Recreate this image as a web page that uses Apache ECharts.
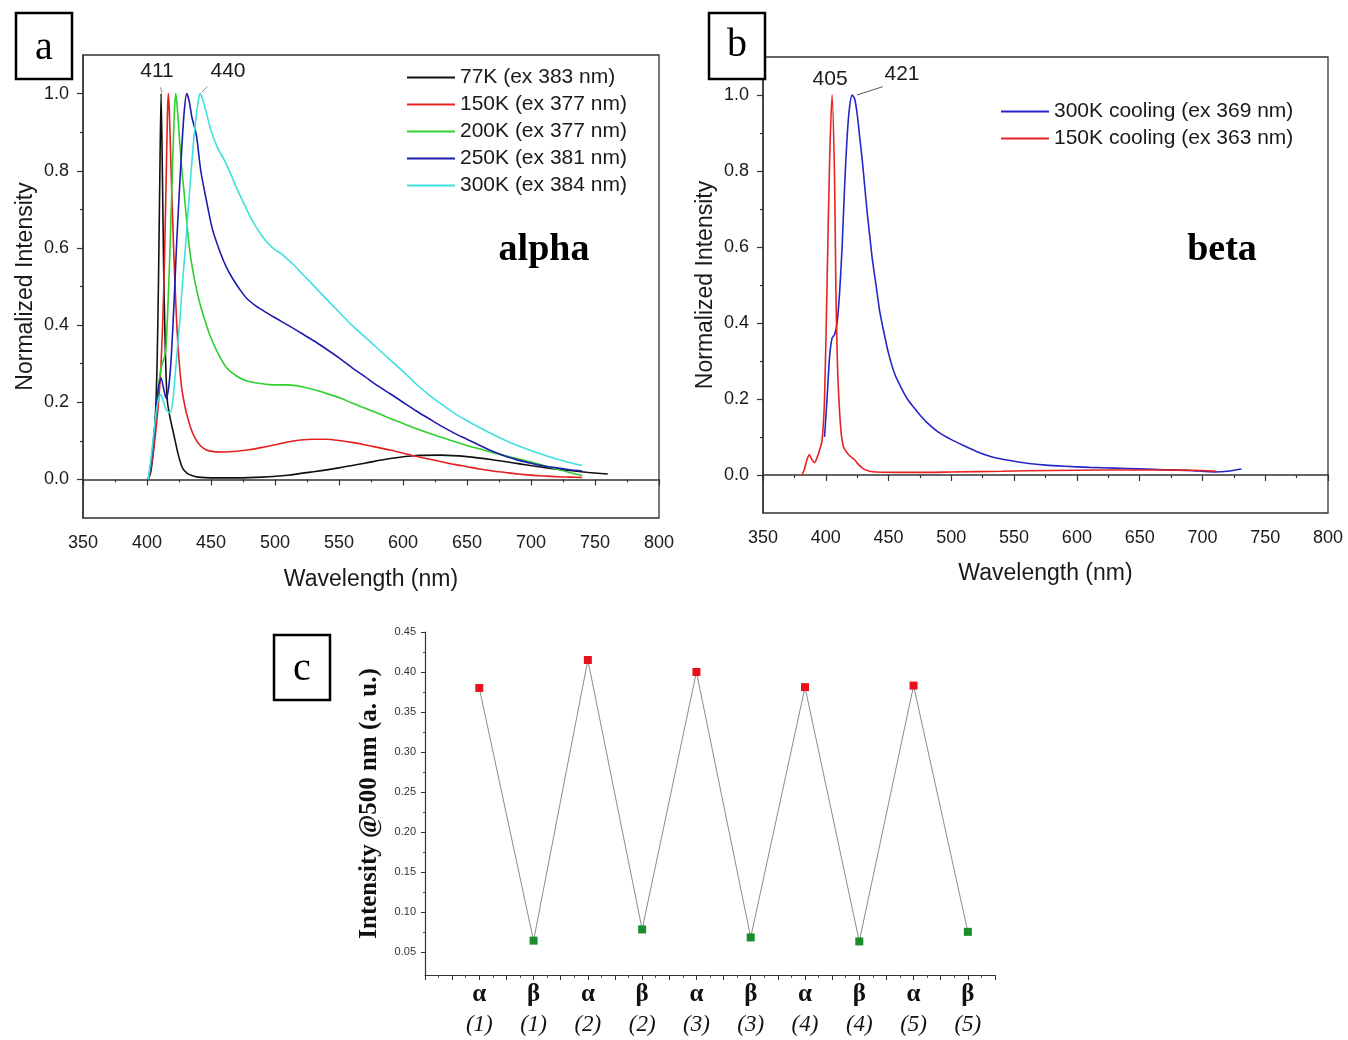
<!DOCTYPE html>
<html><head><meta charset="utf-8">
<script src="https://cdn.jsdelivr.net/npm/echarts@6.0.0/dist/echarts.min.js"></script>
<style>html,body{margin:0;padding:0;background:#fff}#c{width:1348px;height:1040px}</style>
</head><body><div id="c"></div>
<script>
// ---------- Panel a (alpha) ----------
const a77 = [[401,0],[403,0.02],[405,0.08],[407,0.2],[408,0.32],[409,0.52],[410,0.78],[411,1.0],[412,0.8],[413,0.55],[414,0.38],[415,0.26],[416,0.2],[418,0.16],[420,0.13],[422,0.1],[424,0.07],[426,0.045],[428,0.028],[431,0.017],[435,0.01],[440,0.006],[450,0.004],[470,0.004],[490,0.006],[510,0.011],[530,0.02],[550,0.03],[570,0.042],[590,0.054],[610,0.062],[630,0.063],[650,0.059],[670,0.051],[690,0.041],[710,0.031],[730,0.023],[745,0.018],[760,0.014]];
const a150 = [[401,0],[403,0.03],[405,0.07],[407,0.13],[409,0.2],[411,0.3],[413,0.48],[414.5,0.7],[416,0.95],[416.7,1.0],[417.5,0.95],[419,0.78],[421,0.58],[423,0.42],[425,0.31],[427,0.24],[429,0.2],[431,0.17],[434,0.135],[437,0.11],[441,0.09],[446,0.077],[452,0.072],[460,0.071],[470,0.073],[480,0.077],[490,0.083],[500,0.09],[510,0.097],[520,0.102],[530,0.104],[540,0.104],[550,0.101],[560,0.096],[570,0.09],[580,0.083],[590,0.076],[600,0.068],[610,0.06],[620,0.053],[630,0.046],[640,0.039],[650,0.033],[660,0.027],[670,0.022],[680,0.018],[690,0.014],[700,0.011],[710,0.009],[720,0.007],[730,0.006],[740,0.005]];
const a200 = [[401,0],[403,0.04],[405,0.1],[407,0.17],[409,0.24],[411,0.29],[413,0.31],[414.5,0.33],[416,0.42],[418,0.6],[420,0.82],[421.5,0.96],[422.5,1.0],[423.5,0.97],[425,0.9],[427,0.81],[428.5,0.76],[431,0.67],[433.5,0.59],[437,0.52],[441,0.46],[445,0.415],[449,0.375],[455,0.33],[462,0.29],[470,0.268],[478,0.255],[490,0.248],[500,0.245],[510,0.245],[520,0.241],[530,0.233],[540,0.223],[550,0.212],[560,0.198],[570,0.185],[580,0.172],[590,0.158],[600,0.145],[610,0.132],[620,0.12],[630,0.109],[640,0.098],[650,0.088],[660,0.079],[670,0.07],[680,0.061],[690,0.053],[700,0.045],[710,0.036],[720,0.027],[730,0.018],[740,0.01]];
const a250 = [[401,0],[403,0.04],[405,0.1],[407,0.17],[409,0.24],[411,0.263],[413,0.235],[415,0.21],[417,0.24],[419,0.32],[421,0.45],[423,0.6],[425,0.73],[427,0.85],[429,0.95],[431,1.0],[433,0.98],[435,0.94],[438.7,0.89],[442,0.8],[446.6,0.72],[451,0.65],[457,0.59],[462,0.55],[467,0.52],[473,0.49],[478,0.469],[485,0.45],[492,0.435],[500,0.419],[510,0.4],[520,0.38],[530,0.36],[540,0.338],[550,0.315],[560,0.29],[570,0.267],[580,0.243],[590,0.222],[600,0.2],[610,0.178],[620,0.158],[630,0.138],[640,0.12],[650,0.104],[660,0.088],[670,0.073],[680,0.06],[690,0.05],[700,0.042],[710,0.035],[720,0.03],[730,0.025],[740,0.022]];
const a300 = [[401,0],[403,0.05],[405,0.11],[407,0.17],[409,0.21],[410.7,0.22],[413,0.2],[415,0.18],[418,0.172],[420,0.2],[422,0.27],[424,0.35],[425.8,0.418],[428,0.52],[430,0.6],[432,0.69],[433.6,0.762],[436,0.86],[438,0.93],[440,0.98],[441.4,1.0],[443,0.99],[446,0.955],[450,0.905],[455,0.86],[460,0.83],[465,0.795],[470,0.755],[475,0.72],[480,0.685],[485,0.655],[490,0.63],[495,0.61],[500,0.595],[505,0.585],[510,0.57],[515,0.555],[520,0.537],[530,0.503],[540,0.468],[550,0.434],[560,0.4],[570,0.37],[580,0.34],[590,0.31],[600,0.28],[610,0.248],[620,0.22],[630,0.195],[640,0.172],[650,0.152],[660,0.134],[670,0.117],[680,0.101],[690,0.087],[700,0.075],[710,0.063],[720,0.053],[730,0.044],[740,0.036]];
const aNames = ['77K (ex 383 nm)','150K (ex 377 nm)','200K (ex 377 nm)','250K (ex 381 nm)','300K (ex 384 nm)'];
const aColors = ['#111111','#e3201f','#2fcf2f','#1c1cae','#3fe0e0'];

// ---------- Panel b (beta) ----------
const b300 = [[399,0.1],[401,0.2],[403,0.31],[405,0.36],[407,0.37],[409,0.4],[411,0.48],[413,0.6],[415,0.76],[417,0.89],[419,0.97],[421,1.0],[423,0.99],[425,0.95],[427,0.89],[429,0.83],[431,0.76],[433,0.69],[435,0.63],[437,0.57],[440,0.5],[443,0.43],[446,0.38],[450,0.32],[455,0.265],[460,0.23],[465,0.2],[470,0.178],[475,0.158],[480,0.14],[490,0.112],[500,0.093],[510,0.077],[520,0.062],[530,0.05],[540,0.042],[550,0.036],[560,0.031],[575,0.026],[590,0.023],[610,0.02],[630,0.018],[650,0.016],[670,0.014],[690,0.012],[710,0.008],[720,0.01],[731,0.016]];
const b150 = [[381,0],[383,0.015],[385,0.04],[387,0.053],[389,0.04],[391,0.033],[393,0.045],[395,0.065],[397,0.09],[399,0.2],[401,0.5],[403,0.82],[405,1.0],[407,0.78],[408,0.5],[409,0.33],[410,0.23],[412,0.12],[414,0.075],[417,0.058],[420,0.048],[423,0.04],[426,0.028],[430,0.016],[435,0.01],[440,0.008],[460,0.007],[480,0.007],[500,0.008],[540,0.01],[580,0.012],[620,0.013],[660,0.013],[700,0.012],[711,0.01]];
const bNames = ['300K cooling (ex 369 nm)','150K cooling (ex 363 nm)'];
const bColors = ['#2626c8','#e82222'];

// ---------- Panel c ----------
const cPhase = ['α','β','α','β','α','β','α','β','α','β'];
const cCycle = ['(1)','(1)','(2)','(2)','(3)','(3)','(4)','(4)','(5)','(5)'];
const cValues = [0.380,0.064,0.415,0.078,0.400,0.068,0.381,0.063,0.383,0.075];
const cYTicks = [0.05,0.10,0.15,0.20,0.25,0.30,0.35,0.40,0.45];
const cYMinor = [0.075,0.125,0.175,0.225,0.275,0.325,0.375,0.425];

// ---------- shared tick labels ----------
const specYTicks = [0,0.2,0.4,0.6,0.8,1.0];
const specYMinor = [0.1,0.3,0.5,0.7,0.9];

const SANS = 'Liberation Sans, Arial, sans-serif';
const SERIF = 'Liberation Serif, Times New Roman, serif';
const TXT = '#1a1a1a';

function specX(grid, nameGap){
  return {type:'value', gridIndex:grid, min:350, max:800, interval:50,
    axisLine:{lineStyle:{color:'#333',width:1.5}},
    axisTick:{length:6,lineStyle:{color:'#333',width:1.2}},
    minorTick:{show:true,splitNumber:2,length:3,lineStyle:{color:'#333',width:1.2}},
    splitLine:{show:false}, minorSplitLine:{show:false},
    axisLabel:{fontFamily:SANS,fontSize:18,color:TXT,margin:16},
    name:'Wavelength (nm)', nameLocation:'middle', nameGap:nameGap,
    nameTextStyle:{fontFamily:SANS,fontSize:23,color:TXT}};
}
function specY(grid){
  return [{type:'value', gridIndex:grid, min:-0.1, max:1.1,
    axisLine:{show:true,lineStyle:{color:'#333',width:1.5}},
    axisTick:{show:true,length:6,customValues:specYTicks,lineStyle:{color:'#333',width:1.2}},
    axisLabel:{customValues:specYTicks,formatter:v=>v.toFixed(1),fontFamily:SANS,fontSize:18,color:TXT,margin:14},
    splitLine:{show:false},
    name:'Normalized Intensity', nameLocation:'middle', nameRotate:90, nameGap:46,
    nameTextStyle:{fontFamily:SANS,fontSize:23,color:TXT}},
   {type:'value', gridIndex:grid, min:-0.1, max:1.1, position:'left',
    axisLine:{show:false},
    axisTick:{show:true,length:3,customValues:specYMinor,lineStyle:{color:'#333',width:1.2}},
    axisLabel:{show:false}, splitLine:{show:false}}];
}

const series = [];
[a77,a150,a200,a250,a300].forEach((d,i)=>{
  series.push({type:'line', name:aNames[i], xAxisIndex:0, yAxisIndex:0, data:d,
    symbol:'none', smooth:0.25, lineStyle:{color:aColors[i],width:1.6}, itemStyle:{color:aColors[i]}, z:2+i});
});
// peak annotations panel a
series[0].markPoint = {symbol:'rect',symbolSize:1,itemStyle:{color:'rgba(0,0,0,0)'},silent:true,
  label:{show:true,position:'inside',fontFamily:SANS,fontSize:21,color:TXT,formatter:p=>p.name},
  data:[{name:'411',coord:[407.8,1.057]},{name:'440',coord:[463.3,1.057]}]};
series[0].markLine = {symbol:['none','none'],silent:true,label:{show:false},lineStyle:{color:'#888',width:1,type:'solid'},
  data:[[{coord:[410.5,1.016]},{coord:[411.7,1.003]}],[{coord:[447.0,1.018]},{coord:[442.7,1.003]}]]};

[b300,b150].forEach((d,i)=>{
  series.push({type:'line', name:bNames[i], xAxisIndex:1, yAxisIndex:2, data:d,
    symbol:'none', smooth:0.25, lineStyle:{color:bColors[i],width:1.6}, itemStyle:{color:bColors[i]}});
});
series[5].markPoint = {symbol:'rect',symbolSize:1,itemStyle:{color:'rgba(0,0,0,0)'},silent:true,
  label:{show:true,position:'inside',fontFamily:SANS,fontSize:21,color:TXT,formatter:p=>p.name},
  data:[{name:'405',coord:[403.4,1.042]},{name:'421',coord:[460.7,1.055]}]};
series[5].markLine = {symbol:['none','none'],silent:true,label:{show:false},lineStyle:{color:'#555',width:1,type:'solid'},
  data:[[{coord:[424.9,1.0]},{coord:[445.4,1.022]}]]};

series.push({type:'line', name:'c', xAxisIndex:2, yAxisIndex:4,
  data:cValues.map((v,i)=>({value:[i+1,v], itemStyle:{color: cPhase[i]==='α' ? '#e8121c' : '#1b8c2b'}})),
  symbol:'rect', symbolSize:8, showSymbol:true, lineStyle:{color:'#8c8c8c',width:1}, z:3});

const legendCommon = {orient:'vertical', icon:'rect', itemWidth:48, itemHeight:2, padding:0, itemGap:6,
  textStyle:{fontFamily:SANS,fontSize:21,color:TXT,lineHeight:20}, selectedMode:false};

const option = {
  animation:false,
  backgroundColor:'#fff',
  textStyle:{fontFamily:SANS},
  grid:[
    {left:83, top:55, width:576, height:463, show:true, borderColor:'#333', borderWidth:1.3, backgroundColor:'rgba(0,0,0,0)'},
    {left:763, top:57, width:565, height:456, show:true, borderColor:'#333', borderWidth:1.3, backgroundColor:'rgba(0,0,0,0)'},
    {left:425, top:632, width:570, height:343}
  ],
  xAxis:[specX(0,50), specX(1,49),
    {type:'value', gridIndex:2, min:0, max:10.5, interval:0.5,
     axisLine:{lineStyle:{color:'#333',width:1.2}},
     axisTick:{length:5,lineStyle:{color:'#333'}},
     minorTick:{show:true,splitNumber:2,length:3,lineStyle:{color:'#555'}},
     splitLine:{show:false},
     axisLabel:{customValues:cValues.map((_,i)=>i+1), margin:5,
       formatter:v=>{const i=Math.round(v)-1; return '{g|'+cPhase[i]+'}\n{n|'+cCycle[i]+'}';},
       rich:{g:{fontFamily:SERIF,fontWeight:'bold',fontSize:25,lineHeight:30,color:'#111'},
             n:{fontFamily:SERIF,fontStyle:'italic',fontSize:23,lineHeight:30,color:'#111'}}}}
  ],
  yAxis:[...specY(0), ...specY(1),
    {type:'value', gridIndex:2, min:0.021, max:0.45,
     axisLine:{show:true,lineStyle:{color:'#333',width:1.2}},
     axisTick:{show:true,length:4,customValues:cYTicks,lineStyle:{color:'#333'}},
     axisLabel:{customValues:cYTicks,formatter:v=>v.toFixed(2),fontFamily:SANS,fontSize:11,color:'#333',margin:9},
     splitLine:{show:false},
     name:'Intensity @500 nm (a. u.)', nameLocation:'middle', nameRotate:90, nameGap:43,
     nameTextStyle:{fontFamily:SERIF,fontWeight:'bold',fontSize:25,color:'#111'}},
    {type:'value', gridIndex:2, min:0.021, max:0.45, position:'left',
     axisLine:{show:false},
     axisTick:{show:true,length:2,customValues:cYMinor,lineStyle:{color:'#555'}},
     axisLabel:{show:false}, splitLine:{show:false}}
  ],
  legend:[
    Object.assign({id:'legA', data:aNames, left:407, top:67}, legendCommon),
    Object.assign({id:'legB', data:bNames, left:1001, top:101}, legendCommon)
  ],
  series:series,
  graphic:[
    {type:'rect', shape:{x:16,y:13,width:56,height:66}, style:{fill:'#fff',stroke:'#000',lineWidth:2.5}, z:10},
    {type:'text', style:{x:44,y:48,text:'a',font:'40px '+SERIF,fill:'#000',align:'center',verticalAlign:'middle'}, z:11},
    {type:'rect', shape:{x:709,y:13,width:56,height:66}, style:{fill:'#fff',stroke:'#000',lineWidth:2.5}, z:10},
    {type:'text', style:{x:737,y:45,text:'b',font:'40px '+SERIF,fill:'#000',align:'center',verticalAlign:'middle'}, z:11},
    {type:'rect', shape:{x:274,y:635,width:56,height:65}, style:{fill:'#fff',stroke:'#000',lineWidth:2.5}, z:10},
    {type:'text', style:{x:302,y:669,text:'c',font:'40px '+SERIF,fill:'#000',align:'center',verticalAlign:'middle'}, z:11},
    {type:'text', style:{x:544,y:250,text:'alpha',font:'bold 38px '+SERIF,fill:'#000',align:'center',verticalAlign:'middle'}},
    {type:'text', style:{x:1222,y:250,text:'beta',font:'bold 38px '+SERIF,fill:'#000',align:'center',verticalAlign:'middle'}}
  ]
};
const chart = echarts.init(document.getElementById('c'));
chart.setOption(option);
</script></body></html>
